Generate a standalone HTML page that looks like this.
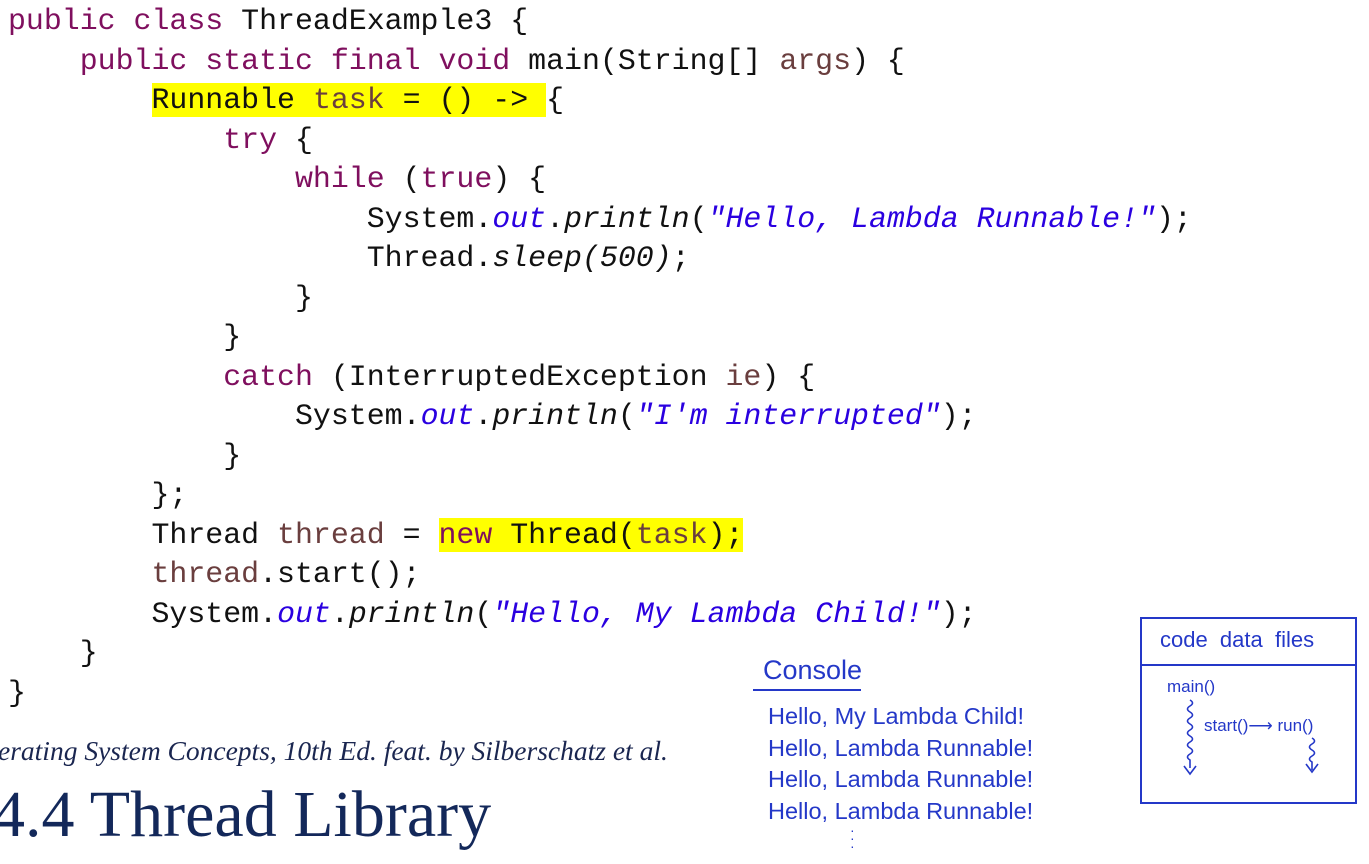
<!DOCTYPE html>
<html><head><meta charset="utf-8"><style>
body{margin:0;width:1369px;height:864px;background:#fff;overflow:hidden;position:relative}
.code{position:absolute;left:8px;top:2px;font-family:"Liberation Mono",monospace;font-size:29.9px;line-height:39.5px;white-space:pre;color:#111}
.k{color:#7f0f5e}.v{color:#6a3e3e}.s{color:#2a00e0;font-style:italic}.i{font-style:italic;color:#2a00e0}.it{font-style:italic}
.h{background:#ffff00}
.hw{position:absolute;font-family:"Liberation Sans",sans-serif;color:#2438c8;white-space:nowrap}
</style></head><body>
<div class="code"><span class="k">public class</span> ThreadExample3 {
    <span class="k">public static final void</span> main(String[] <span class="v">args</span>) {
        <span class="h">Runnable <span class="v">task</span> = () -&gt; </span>{
            <span class="k">try</span> {
                <span class="k">while</span> (<span class="k">true</span>) {
                    System.<span class="i">out</span>.<span class="it">println</span>(<span class="s">"Hello, Lambda Runnable!"</span>);
                    Thread.<span class="it">sleep(500)</span>;
                }
            }
            <span class="k">catch</span> (InterruptedException <span class="v">ie</span>) {
                System.<span class="i">out</span>.<span class="it">println</span>(<span class="s">"I'm interrupted"</span>);
            }
        };
        Thread <span class="v">thread</span> = <span class="h"><span class="k">new</span> Thread(<span class="v">task</span>);</span>
        <span class="v">thread</span>.start();
        System.<span class="i">out</span>.<span class="it">println</span>(<span class="s">"Hello, My Lambda Child!"</span>);
    }
}</div>
<div style="position:absolute;left:-2px;top:735px;font-family:'Liberation Serif',serif;font-style:italic;font-size:27.5px;color:#1a2650">erating System Concepts, 10th Ed. feat. by Silberschatz et al.</div>
<div style="position:absolute;left:-8px;top:780px;font-family:'Liberation Serif',serif;font-size:66px;color:#13285a;line-height:70px">4.4 Thread Library</div>
<div class="hw" style="left:763px;top:655px;font-size:27px">Console</div>
<div style="position:absolute;left:753px;top:689px;width:108px;height:2px;background:#2438c8"></div>
<div class="hw" style="left:768px;top:701px;font-size:23.5px;line-height:31.5px">Hello, My Lambda Child!<br>Hello, Lambda Runnable!<br>Hello, Lambda Runnable!<br>Hello, Lambda Runnable!</div>
<div class="hw" style="left:850px;top:826px;font-size:14px;line-height:8px">·<br>·<br>·</div>
<div style="position:absolute;left:1140px;top:617px;width:213px;height:183px;border:2px solid #2438c8"></div>
<div style="position:absolute;left:1140px;top:664px;width:215px;height:2px;background:#2438c8"></div>
<div class="hw" style="left:1160px;top:627px;font-size:22px">code&nbsp; data&nbsp; files</div>
<div class="hw" style="left:1167px;top:677px;font-size:17px">main()</div>
<div class="hw" style="left:1204px;top:716px;font-size:17px">start()⟶ run()</div>
<svg style="position:absolute;left:0;top:0" width="1369" height="864" fill="none" stroke="#2438c8" stroke-width="1.6">
<path d="M1190 700 q5 3 0 6 q-5 3 0 6 q5 3 0 6 q-5 3 0 6 q5 3 0 6 q-5 3 0 6 q5 3 0 6 q-5 3 0 6 q5 3 0 6 q-5 3 0 6 v8"/>
<path d="M1184 766 l6 8 l6 -8"/>
<path d="M1312 738 q5 3 0 6 q-5 3 0 6 q5 3 0 6 q-5 3 0 6 v8"/>
<path d="M1306 764 l6 8 l6 -8"/>
</svg>
</body></html>
